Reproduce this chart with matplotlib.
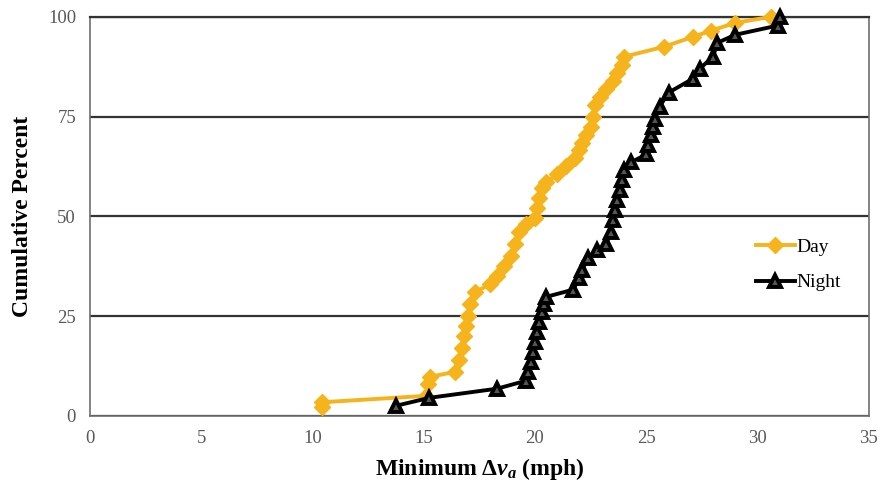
import matplotlib.pyplot as plt

plt.rcParams['font.family'] = ['Liberation Serif', 'DejaVu Serif']
plt.rcParams['mathtext.fontset'] = 'custom'
plt.rcParams['mathtext.it'] = 'Liberation Serif:bold:italic'
plt.rcParams['mathtext.rm'] = 'Liberation Serif:bold'

# Day: minimum delta v (mph) vs cumulative percent
day_x = [10.45, 10.45, 15.1, 15.2, 15.3, 16.4, 16.6, 16.7, 16.8, 16.9, 17.0, 17.1, 17.3,
         18.0, 18.3, 18.6, 18.9, 19.1, 19.3, 19.6, 20.0, 20.1, 20.2, 20.3, 20.5,
         21.0, 21.4, 21.8, 22.0, 22.1, 22.3, 22.5, 22.6, 22.7, 22.9, 23.2, 23.5, 23.7,
         23.9, 24.0, 25.8, 27.1, 27.9, 29.0, 30.6]
day_y = [2.2, 3.4, 5.0, 8.0, 9.8, 11.0, 14.0, 17.0, 20.0, 22.5, 25.0, 28.0, 31.0,
         33.0, 35.0, 37.5, 40.0, 43.0, 46.0, 48.0, 49.5, 52.0, 54.5, 57.0, 58.5,
         60.5, 62.5, 64.5, 66.5, 68.5, 70.5, 72.5, 75.0, 78.0, 80.0, 82.0, 84.0, 86.0,
         88.0, 90.0, 92.5, 95.0, 96.5, 98.5, 100.0]

night_x = [13.75, 15.25, 18.3, 19.6, 19.7, 19.8, 19.9, 20.0, 20.1, 20.2, 20.3, 20.4, 20.5,
           21.7, 22.0, 22.1, 22.4, 22.8, 23.2, 23.4, 23.5, 23.6, 23.7, 23.8, 23.9, 24.0,
           24.3, 25.0, 25.1, 25.2, 25.3, 25.4, 25.6, 26.0, 27.1, 27.4, 28.0, 28.2,
           29.0, 30.9, 31.0]
night_y = [2.5, 4.5, 6.8, 8.8, 11.0, 13.5, 16.0, 18.5, 21.0, 23.5, 26.0, 28.0, 29.8,
           31.6, 34.5, 36.5, 39.5, 41.5, 43.0, 46.0, 49.0, 51.5, 54.0, 56.5, 59.0, 61.5,
           63.5, 65.5, 68.0, 70.5, 72.5, 74.5, 77.5, 81.0, 84.5, 87.0, 90.0, 93.5,
           95.5, 97.8, 100.0]

fig = plt.figure(figsize=(8.82, 4.95), dpi=100)
ax = fig.add_axes([0.102, 0.160, 0.883, 0.806])

ax.plot(day_x, day_y, color='#F5B41C', lw=2.8, marker='D', ms=8,
        mfc='#F5B41C', mec='#F5B41C', label='Day', zorder=3, clip_on=False)
ax.plot(night_x, night_y, color='black', lw=2.8, marker='^', ms=8.5,
        mfc='#555555', mec='black', mew=2.8, label='Night', zorder=4, clip_on=False)

ax.set_xlim(0, 35)
ax.set_ylim(0, 100)
ax.set_xticks(range(0, 36, 5))
ax.set_yticks([0, 25, 50, 75, 100])
ax.yaxis.grid(True, color='#333333', lw=1.6)
ax.set_axisbelow(True)
for s in ['left', 'bottom', 'right']:
    ax.spines[s].set_color('#6e6e6e')
    ax.spines[s].set_linewidth(1.2)
ax.spines['top'].set_color('#333333')
ax.spines['top'].set_linewidth(1.6)
ax.tick_params(length=0, labelsize=13.5, labelcolor='#595959', pad=10)

ax.set_xlabel(r'Minimum $\mathit{Δv_a}$ (mph)', fontsize=17, fontweight='bold', labelpad=7)
ax.set_ylabel('Cumulative Percent', fontsize=17, fontweight='bold', labelpad=11)

ax.legend(loc='center left', bbox_to_anchor=(0.855, 0.378), frameon=False,
          fontsize=14, borderpad=0, borderaxespad=0, handlelength=2.0,
          handletextpad=0.1, labelspacing=0.9)

fig.savefig('out.png', dpi=100)
